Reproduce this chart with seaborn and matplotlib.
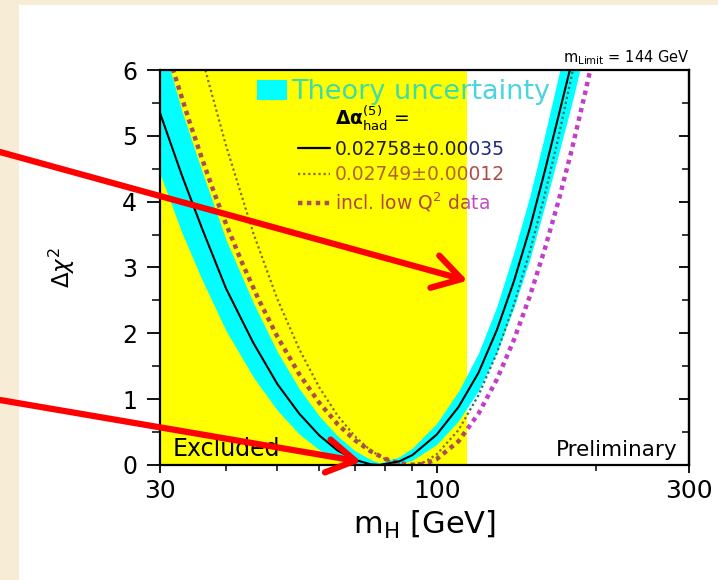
import matplotlib
matplotlib.use("Agg")
import matplotlib.pyplot as plt
import seaborn as sns
from matplotlib.patches import Rectangle, Patch
from matplotlib.lines import Line2D
from matplotlib.text import Text
from matplotlib.legend import Legend
from matplotlib.ticker import FixedLocator, NullFormatter, MultipleLocator

# LEP direct search exclusion and 95% CL limit
m_lep = 114.4
m_limit = 144

# fit with da_had = 0.02758 +- 0.00035 (solid) and its theory band
mh_fit = [30, 33, 36, 40, 45, 50, 55, 60, 65, 70, 75, 78, 85, 90, 100, 110, 120, 130, 140, 150, 160, 170, 180, 190]
chi2_fit = [5.35, 4.40, 3.60, 2.68, 1.86, 1.23, 0.78, 0.45, 0.22, 0.08, 0.01, 0.0, 0.055, 0.15, 0.46, 0.88,
            1.40, 2.05, 2.79, 3.59, 4.45, 5.30, 6.11, 6.92]
band_lo = [4.43, 3.53, 2.82, 2.04, 1.34, 0.83, 0.47, 0.23, 0.08, 0.01, 0.0, 0.0, 0.013, 0.073, 0.31, 0.67,
           1.13, 1.71, 2.39, 3.12, 3.92, 4.72, 5.48, 6.26]
band_hi = [6.55, 5.38, 4.47, 3.42, 2.47, 1.72, 1.16, 0.745, 0.44, 0.22, 0.083, 0.03, 0.124, 0.257, 0.63, 1.12,
           1.70, 2.41, 3.23, 4.08, 5.00, 5.91, 6.76, 7.60]

# da_had = 0.02749 +- 0.00012 (thin dotted)
mh_q = [35, 37, 40, 45, 50, 55, 60, 65, 70, 75, 80, 85, 89, 95, 100, 110, 120, 130, 140, 150, 160, 170, 180, 190]
chi2_q = [6.6, 5.84, 4.85, 3.53, 2.52, 1.76, 1.18, 0.75, 0.44, 0.22, 0.088, 0.017, 0.0, 0.049, 0.16, 0.53,
          1.06, 1.70, 2.44, 3.24, 4.09, 4.98, 5.91, 6.85]

# incl. low Q^2 data (thick dotted)
mh_lowq = [30, 32, 34, 36, 38, 40, 43, 46, 50, 55, 60, 65, 70, 75, 80, 85, 91, 95, 100, 110, 120, 130,
           140, 150, 160, 170, 180, 190, 200]
chi2_lowq = [6.67, 5.92, 5.25, 4.66, 4.13, 3.66, 3.05, 2.53, 1.95, 1.38, 0.945, 0.62, 0.38, 0.21, 0.093,
             0.027, 0.0, 0.017, 0.088, 0.36, 0.78, 1.30, 1.90, 2.56, 3.27, 4.01, 4.78, 5.58, 6.38]

x_ticks = [30, 100, 300]
x_minor = [40, 50, 60, 70, 80, 90, 200]
legend_labels = [r"$\mathbf{\Delta\alpha}^{(5)}_{\mathrm{had}}$ =", "0.02758\u00b10.00035",
                 "0.02749\u00b10.00012", r"incl. low Q$^2$ data"]

# colours: first on the yellow (excluded) part, second on the white part
col_q = ("#8a6a20", "#2a6e66")
col_lowq = ("#ab4d55", "#c23ec8")
txt_yellow = ["black", "#1c1c2c", "#b5632c", "#b0443f"]
txt_white = ["black", "#1f2a80", "#b34a4a", "#c24cc4"]
theory_col = ("#3fdca8", "#49d5dc")

sns.set_theme(style="ticks", rc={"axes.linewidth": 1.6, "xtick.major.width": 1.3, "ytick.major.width": 1.3,
                                 "xtick.minor.width": 1.1, "ytick.minor.width": 1.1,
                                 "text.color": "black", "axes.labelcolor": "black",
                                 "xtick.color": "black", "ytick.color": "black"})
plt.rcParams["font.family"] = ["DejaVu Sans"]

fig = plt.figure(figsize=(7.18, 5.8), dpi=100)
fig.patch.set_facecolor("#f7ecd6")
fig.add_artist(Rectangle((19 / 718, 0), 1, 1 - 5 / 580, transform=fig.transFigure,
                         facecolor="white", edgecolor="none", zorder=-10))

ax = fig.add_axes([0.2228, 0.1983, 0.7368, 0.681])
ax.set_facecolor("white")
ax.set_xscale("log")
ax.set_xlim(30, 300)
ax.set_ylim(0, 6)

rect_yellow = Rectangle((30, 0), m_lep - 30, 6, transform=ax.transData)
rect_white = Rectangle((m_lep, 0), 300 - m_lep, 6, transform=ax.transData)

ax.axvspan(30, m_lep, color="#ffff00", lw=0, zorder=0.5)
ax.fill_between(mh_fit, band_lo, band_hi, color="#00ffff", lw=0, zorder=1)


def draw_curve(x, y, colors, **kw):
    for c, rect in zip(colors, (rect_yellow, rect_white)):
        sns.lineplot(x=x, y=y, ax=ax, color=c, estimator=None, legend=False, **kw)
        ax.lines[-1].set_clip_path(rect)


draw_curve(mh_q, chi2_q, col_q, lw=1.6, linestyle=(0, (1, 1.3)), zorder=2.5)
draw_curve(mh_lowq, chi2_lowq, col_lowq, lw=3.2, linestyle=(0, (1, 1)), zorder=2.6)
sns.lineplot(x=mh_fit, y=chi2_fit, ax=ax, color="black", lw=1.5, estimator=None, legend=False, zorder=3)


def clip_legend(leg, rect):
    for a in leg.findobj(lambda a: isinstance(a, (Line2D, Text, Patch)) and a is not leg.legendPatch):
        a.set_clip_path(rect)
    ax.add_artist(leg)


for k, rect in enumerate((rect_yellow, rect_white)):
    txt = (txt_yellow, txt_white)[k]
    handles = [Line2D([], [], linestyle="none"),
               Line2D([], [], color="black", lw=1.6),
               Line2D([], [], color=col_q[0], lw=1.6, linestyle=(0, (1, 1.3))),
               Line2D([], [], color=col_lowq[0], lw=3.2, linestyle=(0, (1, 1)))]
    leg = Legend(ax, handles, legend_labels, loc="upper left", bbox_to_anchor=(0.261, 0.914),
                 frameon=False, fontsize=13.5, handlelength=1.7, handletextpad=0.27,
                 labelspacing=0.34, borderpad=0, borderaxespad=0)
    for t, c in zip(leg.get_texts(), txt):
        t.set_color(c)
    clip_legend(leg, rect)

    leg2 = Legend(ax, [Patch(facecolor="#00ffff", edgecolor="none")], ["Theory uncertainty"],
                  loc="center left", bbox_to_anchor=(0.183, 0.944), frameon=False, fontsize=19.5,
                  handlelength=1.1, handleheight=0.74, handletextpad=0.18, borderpad=0, borderaxespad=0)
    leg2.get_texts()[0].set_color(theory_col[k])
    clip_legend(leg2, rect)

# axes decoration
ax.xaxis.set_major_locator(FixedLocator(x_ticks))
ax.xaxis.set_minor_locator(FixedLocator(x_minor))
ax.set_xticklabels([str(v) for v in x_ticks])
ax.xaxis.set_minor_formatter(NullFormatter())
ax.yaxis.set_major_locator(MultipleLocator(1))
ax.yaxis.set_minor_locator(MultipleLocator(0.5))
ax.tick_params(axis="x", which="major", direction="out", length=6, labelsize=18, pad=4, top=False)
ax.tick_params(axis="x", which="minor", direction="out", length=4, top=False)
ax.tick_params(axis="y", which="major", direction="out", length=9.5, labelsize=17, pad=7, right=False)
ax.tick_params(axis="y", which="minor", direction="out", length=5.5, right=False)
for s in ax.spines.values():
    s.set_color("black")
    s.set_zorder(4)

sec = ax.secondary_yaxis("right")
sec.yaxis.set_major_locator(MultipleLocator(1))
sec.yaxis.set_minor_locator(MultipleLocator(0.5))
sec.tick_params(which="major", direction="in", length=7, labelright=False)
sec.tick_params(which="minor", direction="in", length=5, labelright=False)

ax.set_ylabel(r"$\Delta\chi^2$", fontsize=16.5)
ax.yaxis.set_label_coords(-0.157, 0.5)
ax.set_xlabel(r"m$_\mathrm{H}$ [GeV]", fontsize=22)
ax.xaxis.set_label_coords(0.5, -0.11)

ax.text(0.023, 0.023, "Excluded", transform=ax.transAxes, fontsize=17, va="baseline", zorder=5)
ax.text(0.979, 0.023, "Preliminary", transform=ax.transAxes, fontsize=15.5, ha="right", va="baseline", zorder=5)
ax.text(1.002, 1.008, r"m$_\mathrm{Limit}$ = %d GeV" % m_limit, transform=ax.transAxes, fontsize=10.5,
        ha="right", va="bottom")

# red arrows pointing at the excluded edge and the minimum
arrow = dict(arrowstyle="->, head_length=1.0, head_width=0.6", color="#ff0000", lw=4.5,
             shrinkA=0, shrinkB=0, mutation_scale=20)
ax.annotate("", xy=(m_lep, 2.8), xycoords="data", xytext=(0, 1 - 152 / 580),
            textcoords="figure fraction", arrowprops=arrow, annotation_clip=False, zorder=10)
ax.annotate("", xy=(72, 0.05), xycoords="data", xytext=(0, 1 - 400 / 580),
            textcoords="figure fraction", arrowprops=arrow, annotation_clip=False, zorder=10)

fig.savefig("out.png", dpi=100, facecolor=fig.get_facecolor())
